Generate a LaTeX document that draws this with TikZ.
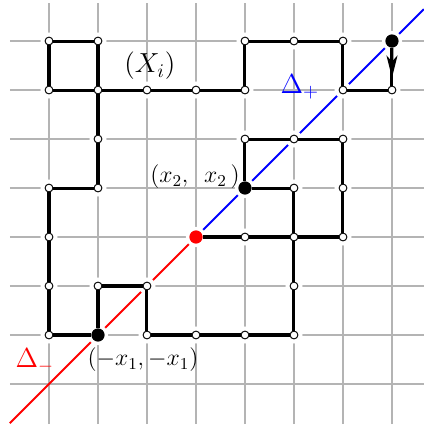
\RequirePackage{fix-cm}
\documentclass[tikz,border=0pt]{standalone}
\usepackage{xcolor}
\usepackage{tikz}
\usetikzlibrary{arrows.meta,calc}
\definecolor{GridGray}{HTML}{B4B4B4}

\begin{document}
\begin{tikzpicture}[
  gridline/.style={GridGray,line width=0.7pt},
  diag/.style={line width=1.2pt},
  vtx/.style={circle,draw,fill=white,line width=0.55pt,inner sep=0pt,minimum size=1.6mm,
    preaction={draw=white,line width=5pt}},
  dot/.style={circle,fill=black,inner sep=0pt,minimum size=2.7mm,
    preaction={draw=white,line width=4pt}},
  walk/.style={line width=1.75pt,preaction={draw=white,line width=6pt}},
  lbl/.style={inner sep=0pt,font=\fontsize{13.8}{16}\selectfont},
  biglbl/.style={inner sep=0pt,font=\fontsize{16}{19}\selectfont}
]
  \useasboundingbox (-1.0,-0.898) rectangle (7.653,7.837);
  \draw[gridline] (-0.8,-0.82) grid (7.653,7.78);

  % the diagonal
  \coordinate (dlo) at (-0.8,-0.8);
  \coordinate (o) at (3,3);
  \coordinate (dhi) at (7.65,7.65);
  \draw[diag,red] (dlo) -- (o);
  \draw[diag,blue] (o) -- (dhi);

  % sites of the walk
  \foreach \x/\y in {4/3,5/3,6/3,6/4,6/5,5/5,4/5,5/4,5/2,5/1,4/1,3/1,2/1,2/2,1/2,
                     0/1,0/2,0/3,0/4,1/4,1/5,1/6,1/7,0/7,0/6,2/6,3/6,4/6,4/7,5/7,
                     6/7,6/6,7/6}
    \node[vtx] (v\x\y) at (\x,\y) {};
  \node[dot,fill=red] (v33) at (o) {};
  \node[dot] (v11) at (1,1) {};
  \node[dot] (v44) at (4,4) {};
  \node[dot] (v77) at (7,7) {};

  \draw[walk] (v33) -- (v43) -- (v53) -- (v63) -- (v64) -- (v65) -- (v55) -- (v45)
    -- (v44) -- (v54) -- (v53) -- (v52) -- (v51) -- (v41) -- (v31) -- (v21) -- (v22)
    -- (v12) -- (v11) -- (v01) -- (v02) -- (v03) -- (v04) -- (v14) -- (v15) -- (v16)
    -- (v17) -- (v07) -- (v06) -- (v16) -- (v26) -- (v36) -- (v46) -- (v47) -- (v57)
    -- (v67) -- (v66) -- (v76);
  \draw[walk] (v77) -- (v76);
  \coordinate (tip) at ($(v77)!0.75!(v76)$);
  \draw[line width=1.75pt,-{Stealth[length=4.5mm,width=2.2mm,inset=1.2mm]}] (v77) -- (tip);

  \node[biglbl] (xi) at (2.06,6.49) {$(X_i)$};
  \node[biglbl,blue] (dplus) at (5.12,6.06) {$\Delta_+$};
  \node[biglbl,red] (dminus) at (-0.29,0.47) {$\Delta_-$};
  \node[lbl,anchor=east] (x2) at (3.9,4.23) {$(x_2,\ \,x_2\,)$};
  \node[lbl,anchor=west] (x1) at (0.78,0.49) {$(-x_1,-x_1)$};
\end{tikzpicture}
\end{document}
